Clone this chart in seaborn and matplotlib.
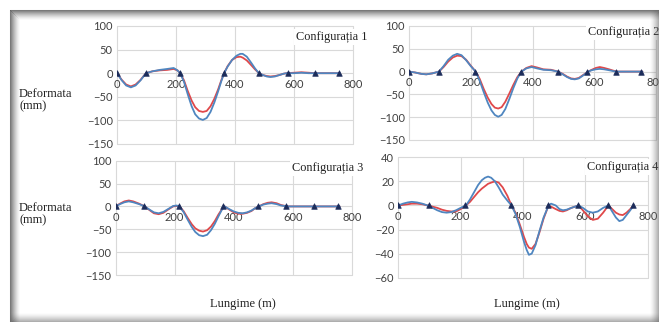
import numpy as np
import pandas as pd
import matplotlib.pyplot as plt
import seaborn as sns

sns.set_style("white")
plt.rcParams['font.family'] = ['Lato', 'DejaVu Sans']

# support positions (triangles)
reazeme_x = [0, 98, 215, 363, 481, 578, 672, 752]
reazeme_y = [0, 0, 0, 0, 0, 0, 0, 0]

# Configuratia 1 - length (m) and deflection (mm)
x1 = [0, 16, 31, 47, 63, 80, 98, 120, 145, 170, 192, 205, 214, 227, 240, 253, 265,
      278, 291, 304, 317, 330, 343, 353, 363, 375, 390, 405, 418, 426, 440, 455, 468,
      481, 495, 508, 520, 535, 550, 565, 575, 600, 625, 650, 672, 700, 725, 752]
c1_albastru = [0, -15, -26, -30, -26, -15, 0, 4, 7, 9, 11, 6, 0, -18, -45, -70, -87,
               -96, -99, -95, -82, -62, -38, -18, 0, 14, 28, 37, 41, 41, 35, 22, 10,
               0, -4, -7, -8, -7, -4, -1, 0, 0, 1, 0, 0, 0, 0, 0]
c1_rosu = [0, -14, -24, -28, -24, -14, 0, 4, 6, 7, 9, 6, 0, -15, -38, -58, -72,
           -80, -82, -80, -70, -54, -34, -16, 0, 15, 28, 34, 35, 33, 27, 17, 8,
           0, -4, -6, -7, -6, -4, -1, 0, 1, 2, 1, 0, 0, 0, 0]

# Configuratia 2
x2 = [0, 20, 40, 56, 75, 97, 112, 127, 142, 156, 170, 185, 200, 216, 229, 242, 255,
      267, 278, 289, 300, 312, 325, 338, 351, 364, 380, 397, 415, 435, 460, 483, 498,
      512, 525, 537, 550, 565, 580, 592, 605, 618, 632, 648, 662, 675, 700, 725, 756]
c2_albastru = [0, -2, -5, -6, -4, 0, 12, 26, 35, 39, 36, 25, 12, 0, -20, -45, -68,
               -85, -95, -99, -95, -82, -60, -36, -15, 0, 7, 10, 7, 4, 3, 0, -6,
               -12, -16, -17, -15, -8, 0, 3, 5, 6, 5, 3, 1, 0, 0, 0, 0]
c2_rosu = [0, -2, -5, -6, -4, 0, 10, 22, 31, 35, 34, 26, 13, 0, -16, -38, -57,
           -71, -79, -81, -78, -66, -48, -29, -12, 0, 8, 12, 9, 5, 4, 0, -5,
           -11, -15, -16, -14, -7, 0, 4, 8, 10, 8, 5, 2, 0, 0, 0, 0]

# Configuratia 3
x3 = [0, 15, 30, 45, 60, 80, 99, 115, 130, 146, 162, 180, 195, 207, 216, 230, 245,
      258, 270, 283, 296, 310, 323, 336, 348, 360, 369, 385, 400, 415, 430, 445, 460,
      472, 485, 500, 515, 528, 545, 560, 582, 620, 680, 720, 758]
c3_albastru = [0, 5, 9, 11, 9, 5, 0, -7, -13, -15, -12, -5, 1, 2, 0, -12, -30,
               -45, -56, -63, -65, -62, -52, -38, -22, -7, 0, -6, -11, -14, -15, -13, -9,
               -4, 0, 4, 6, 7, 5, 2, 0, 0, 0, 0, 0]
c3_rosu = [0, 6, 11, 13, 11, 6, 0, -8, -15, -17, -14, -6, 0, 1, 0, -10, -26,
           -39, -48, -53, -55, -52, -44, -32, -18, -6, 0, -7, -13, -16, -16, -14, -10,
           -4, 0, 5, 8, 9, 7, 3, 0, 0, 0, 0, 0]

# Configuratia 4
x4 = [0, 15, 30, 43, 60, 77, 94, 110, 125, 140, 155, 170, 185, 200, 217, 230, 243,
      256, 268, 278, 288, 298, 310, 322, 335, 350, 363, 376, 390, 403, 412, 419, 428,
      440, 452, 466, 482, 490, 505, 517, 528, 540, 555, 578, 592, 608, 624, 640, 657,
      674, 686, 698, 709, 720, 732, 744, 755]
c4_albastru = [0, 1.5, 2.5, 3, 2.5, 1.5, 0, -2, -4, -5.5, -6, -5.5, -4, -2, 0, 5, 11,
               17, 21, 23, 24, 23, 20, 15, 9, 4, 0, -7, -18, -30, -37, -41, -40,
               -33, -22, -10, 0, 1.5, 0, -3, -4, -3.5, -2, 0, -2, -5, -6, -5, -2,
               0, -5, -10, -13, -12, -8, -4, 0]
c4_rosu = [0, 0.5, 1, 1.5, 1.5, 1, 0, -1, -2, -3.5, -4.5, -5, -5, -3, 0, 3, 7,
           11, 14, 16, 18, 19, 20, 19, 15, 8, 0, -6, -16, -26, -32, -35, -36,
           -32, -23, -11, 0, -1, -3, -4.5, -5, -4, -2, 0, -4, -9, -12, -11, -6,
           0, -3, -6, -7.5, -8, -6, -3, 0]

titluri = ['Configurația 1', 'Configurația 2', 'Configurația 3', 'Configurația 4']
xticks = [0, 200, 400, 600, 800]
yticks_mare = [-150, -100, -50, 0, 50, 100]
yticks_mic = [-60, -40, -20, 0, 20, 40]

W, H = 659, 322


def fx(px):
    return px / W


def fy(py):
    return 1 - py / H


fig = plt.figure(figsize=(6.59, 3.22), dpi=100)
fig.patch.set_facecolor('white')

# axes boxes in pixels: left, right, top, bottom
boxes = [(117, 353, 26, 144), (409, 656, 26, 140),
         (115.5, 352, 160.7, 275), (398.3, 647.7, 157.3, 277.7)]
serii = [(x1, c1_albastru, c1_rosu), (x2, c2_albastru, c2_rosu),
         (x3, c3_albastru, c3_rosu), (x4, c4_albastru, c4_rosu)]

BLUE = '#4f86c0'
RED = '#e0484a'
NAVY = '#1c2c5a'
SERIF = ['Liberation Serif', 'DejaVu Serif']

for i, ((l, r, t, b), (xs, alb, ros)) in enumerate(zip(boxes, serii)):
    ax = fig.add_axes([fx(l), fy(b), fx(r - l), (b - t) / H])
    df = pd.DataFrame({
        'x': xs * 2,
        'y': ros + alb,
        'serie': ['rosu'] * len(xs) + ['albastru'] * len(xs),
    })
    sns.lineplot(data=df, x='x', y='y', hue='serie', sort=False,
                 palette={'rosu': RED, 'albastru': BLUE}, lw=1.3,
                 legend=False, ax=ax)
    for ln in ax.get_lines():
        ln.set_solid_joinstyle('round')
    sns.scatterplot(x=reazeme_x, y=reazeme_y, marker='^', s=16, color=NAVY,
                    edgecolor=NAVY, linewidth=0.5, zorder=5, ax=ax)
    ax.set_xlim(0, 800)
    if i == 3:
        ax.set_ylim(-60, 40)
        ax.set_yticks(yticks_mic)
    else:
        ax.set_ylim(-150, 100)
        ax.set_yticks(yticks_mare)
    ax.set_xticks(xticks)
    ax.set_xlabel('')
    ax.set_ylabel('')
    ax.grid(True, color='#d9d9d9', lw=0.8)
    ax.set_axisbelow(True)
    for s in ax.spines.values():
        s.set_visible(False)
    ax.spines['bottom'].set_position(('data', 0))
    ax.tick_params(axis='both', length=0, labelsize=8, colors='#404040')
    ax.tick_params(axis='x', pad=4)
    ax.tick_params(axis='y', pad=3)
    for gl in ax.get_xgridlines() + ax.get_ygridlines():
        gl.set_clip_on(False)

# panel titles with white boxes
for txt, (px, py) in zip(titluri, [(296, 37), (588, 32), (292, 168), (587, 167)]):
    fig.text(fx(px), fy(py), txt, ha='left', va='center', fontsize=8.8,
             family=SERIF, color='#222222',
             bbox=dict(facecolor='white', edgecolor='none', pad=1.5), zorder=6)

for py in [100, 214]:
    fig.text(fx(19), fy(py), 'Deformata\n(mm)', ha='left', va='center',
             fontsize=9, family=SERIF, color='#222222', linespacing=1.1)

for px in [243, 527]:
    fig.text(fx(px), fy(304), 'Lungime (m)', ha='center', va='center',
             fontsize=9, family=SERIF, color='#222222')

# scanned frame shadow
ov = fig.add_axes([0, 0, 1, 1], zorder=10)
ov.set_xlim(0, W)
ov.set_ylim(H, 0)
ov.axis('off')
ov.patch.set_alpha(0)
for d in range(10):
    a = 0.75 * (1 - d / 10) ** 1.5
    ov.plot([10 + d, W], [10 + d, 10 + d], color='0.3', alpha=a, lw=0.75)
    ov.plot([10 + d, 10 + d], [10 + d, H], color='0.3', alpha=a, lw=0.75)
    ov.plot([W - d, W - d], [10, H], color='0.4', alpha=a * 0.8, lw=0.75)
    ov.plot([10, W], [H - d, H - d], color='0.4', alpha=a * 0.8, lw=0.75)

fig.savefig('out.png', dpi=100)
